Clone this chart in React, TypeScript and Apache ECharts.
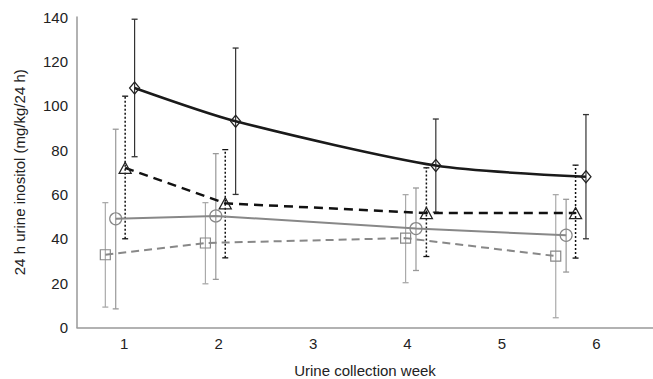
import React, { useEffect, useRef } from "react";
import * as echarts from "echarts";

// Urine collection week (x positions as plotted, offset per group)
const diamondX = [1.11, 2.18, 4.3, 5.89];
const diamondY = [108, 93, 73, 68];
const diamondLow = [77, 60, 52, 40];
const diamondHigh = [139, 126, 94, 96];

const triangleX = [1.01, 2.07, 4.2, 5.78];
const triangleY = [72, 56, 51.6, 51.6];
const triangleLow = [40, 31.4, 32, 31.3];
const triangleHigh = [104.3, 80.2, 72, 73.2];

const circleX = [0.91, 1.97, 4.09, 5.68];
const circleY = [49, 50.3, 44.6, 41.6];
const circleLow = [8.4, 21.7, 25.7, 25];
const circleHigh = [89.4, 78.4, 62.9, 57.8];

const squareX = [0.8, 1.86, 3.98, 5.57];
const squareY = [32.8, 38.1, 40.3, 32.2];
const squareLow = [9.2, 19.7, 20.2, 4.4];
const squareHigh = [56.3, 56.3, 59.9, 59.9];

const yTicks = [0, 20, 40, 60, 80, 100, 120, 140];
const xTickLabels = ["1", "2", "3", "4", "5", "6"];

const FONT = "'Liberation Sans', Arial, sans-serif";

function pts(xs: number[], ys: number[]) {
  return xs.map((x, i) => [x, ys[i]]);
}
function errs(xs: number[], lo: number[], hi: number[]) {
  return xs.map((x, i) => [x, lo[i], hi[i]]);
}

function errorSeries(data: number[][], stroke: string, lineWidth: number, dash?: number[]) {
  return {
    type: "custom",
    data,
    encode: { x: 0, y: [1, 2] },
    z: 1,
    silent: true,
    renderItem: (params: any, api: any) => {
      const x = api.value(0);
      const lo = api.coord([x, api.value(1)]);
      const hi = api.coord([x, api.value(2)]);
      const cap = 3;
      return {
        type: "group",
        children: [
          {
            type: "line",
            shape: { x1: lo[0], y1: lo[1], x2: hi[0], y2: hi[1] },
            style: { stroke, lineWidth, lineDash: dash || null, fill: null },
          },
          {
            type: "line",
            shape: { x1: lo[0] - cap, y1: lo[1], x2: lo[0] + cap, y2: lo[1] },
            style: { stroke, lineWidth: 1.3 },
          },
          {
            type: "line",
            shape: { x1: hi[0] - cap, y1: hi[1], x2: hi[0] + cap, y2: hi[1] },
            style: { stroke, lineWidth: 1.3 },
          },
        ],
      };
    },
  };
}

export default function App() {
  const ref = useRef<HTMLDivElement>(null);
  useEffect(() => {
    if (!ref.current) return;
    const chart = echarts.init(ref.current, null, { renderer: "svg" });
    chart.setOption({
      animation: false,
      grid: { left: 77, right: 0, top: 17, bottom: 51.5, containLabel: false, outerBoundsMode: "none" },
      xAxis: {
        type: "value",
        min: 0.5,
        max: 6.6,
        interval: 0.5,
        name: "Urine collection week",
        nameLocation: "middle",
        nameGap: 35,
        nameTextStyle: { fontFamily: FONT, fontSize: 15, color: "#222" },
        axisLine: { show: true, lineStyle: { color: "#999", width: 1.5 } },
        axisTick: { show: false },
        splitLine: { show: false },
        axisLabel: {
          fontFamily: FONT,
          fontSize: 15,
          color: "#222",
          margin: 8,
          showMinLabel: false,
          showMaxLabel: false,
          formatter: (v: number) => {
            const idx = xTickLabels.indexOf(String(v));
            return Number.isInteger(v) && idx >= 0 ? xTickLabels[idx] : "";
          },
        },
      },
      yAxis: {
        type: "value",
        min: yTicks[0],
        max: yTicks[yTicks.length - 1],
        interval: 20,
        name: "24 h urine inositol (mg/kg/24 h)",
        nameLocation: "middle",
        nameRotate: 90,
        nameGap: 50,
        nameTextStyle: { fontFamily: FONT, fontSize: 15, color: "#222" },
        axisLine: { show: true, lineStyle: { color: "#999", width: 1.5 } },
        axisTick: { show: false },
        splitLine: { show: false },
        axisLabel: { fontFamily: FONT, fontSize: 15, color: "#222", margin: 9 },
      },
      series: [
        errorSeries(errs(squareX, squareLow, squareHigh), "#aaa", 1.2),
        errorSeries(errs(circleX, circleLow, circleHigh), "#999", 1.2),
        errorSeries(errs(diamondX, diamondLow, diamondHigh), "#333", 1.2),
        errorSeries(errs(triangleX, triangleLow, triangleHigh), "#111", 1.5, [2, 2]),
        {
          type: "line",
          data: pts(squareX, squareY),
          z: 3,
          symbol: "rect",
          symbolSize: 10,
          lineStyle: { color: "#888", width: 2, type: [8, 5] },
          itemStyle: { color: "rgba(0,0,0,0)", borderColor: "#888", borderWidth: 1.2 },
        },
        {
          type: "line",
          data: pts(circleX, circleY),
          z: 3,
          symbol: "circle",
          symbolSize: 12,
          lineStyle: { color: "#888", width: 2 },
          itemStyle: { color: "rgba(0,0,0,0)", borderColor: "#888", borderWidth: 1.2 },
        },
        {
          type: "line",
          data: pts(diamondX, diamondY),
          z: 4,
          smooth: 0.25,
          symbol: "diamond",
          symbolSize: [10, 12],
          lineStyle: { color: "#1a1a1a", width: 2.5 },
          itemStyle: { color: "rgba(0,0,0,0)", borderColor: "#222", borderWidth: 1.3 },
        },
        {
          type: "line",
          data: pts(triangleX, triangleY),
          z: 4,
          symbol: "triangle",
          symbolSize: [12, 11],
          lineStyle: { color: "#111", width: 2.5, type: [9, 6] },
          itemStyle: { color: "rgba(0,0,0,0)", borderColor: "#222", borderWidth: 1.3 },
        },
      ],
    });
    return () => chart.dispose();
  }, []);
  return <div ref={ref} style={{ width: 653, height: 379, position: "absolute", left: 0, top: 0 }} />;
}
